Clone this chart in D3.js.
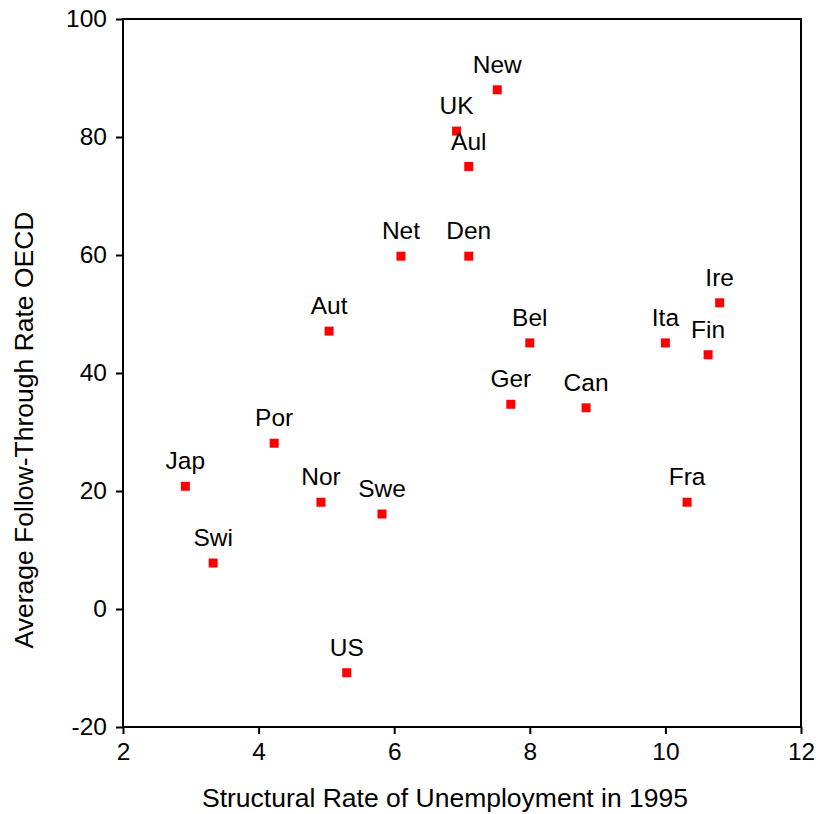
<!DOCTYPE html>
<html>
<head>
<meta charset="utf-8">
<script src="https://cdn.jsdelivr.net/npm/d3@7"></script>
<style>
  body { margin: 0; background: #fff; }
  text { font-family: "Liberation Sans", Arial, sans-serif; }
</style>
</head>
<body>
<div id="chart"></div>
<script>
var countries = ["New", "UK", "Aul", "Net", "Den", "Aut", "Bel", "Ita", "Ire", "Fin", "Ger", "Can", "Por", "Jap", "Nor", "Swe", "Fra", "Swi", "US"];
var unemployment = [7.52, 6.92, 7.10, 6.10, 7.10, 5.04, 8.00, 10.00, 10.80, 10.63, 7.72, 8.83, 4.23, 2.92, 4.92, 5.82, 10.32, 3.33, 5.30];
var followThrough = [88.0, 81.0, 75.0, 59.8, 59.8, 47.1, 45.1, 45.1, 51.9, 43.1, 34.7, 34.1, 28.1, 20.8, 18.1, 16.1, 18.1, 7.8, -10.8];
var xTicks = [2, 4, 6, 8, 10, 12];
var yTicks = [-20, 0, 20, 40, 60, 80, 100];

var width = 816, height = 814;
var mLeft = 123, mRight = 801, mTop = 19, mBottom = 727;

var svg = d3.select("#chart").append("svg")
    .attr("width", width)
    .attr("height", height);

var x = d3.scaleLinear().domain([2, 12]).range([mLeft, mRight]);
var y = d3.scaleLinear().domain([-20, 100]).range([mBottom, mTop]);

// frame
svg.append("rect")
    .attr("x", mLeft)
    .attr("y", mTop)
    .attr("width", mRight - mLeft)
    .attr("height", mBottom - mTop)
    .attr("fill", "none")
    .attr("stroke", "#000")
    .attr("stroke-width", 2);

// plain hyphen for negatives, like the original
var fmt = function(d) { return String(d); };

var xAxis = svg.append("g")
    .attr("transform", "translate(0," + mBottom + ")")
    .call(d3.axisBottom(x).tickValues(xTicks).tickSize(7).tickPadding(9).tickFormat(fmt));

var yAxis = svg.append("g")
    .attr("transform", "translate(" + mLeft + ",0)")
    .call(d3.axisLeft(y).tickValues(yTicks).tickSize(7).tickPadding(9).tickFormat(fmt));

[xAxis, yAxis].forEach(function(a) {
  a.select(".domain").remove();
  a.selectAll(".tick line").attr("stroke", "#000").attr("stroke-width", 2);
  a.selectAll(".tick text")
      .attr("fill", "#000")
      .attr("font-size", "24.5px")
      .attr("font-family", "'Liberation Sans', Arial, sans-serif");
});

var pts = countries.map(function(c, i) {
  return {name: c, ux: unemployment[i], fy: followThrough[i]};
});

svg.selectAll(".pt")
    .data(pts)
  .enter().append("rect")
    .attr("class", "pt")
    .attr("x", function(d) { return x(d.ux) - 4.5; })
    .attr("y", function(d) { return y(d.fy) - 4.5; })
    .attr("width", 9)
    .attr("height", 9)
    .attr("fill", "#ff0000");

svg.selectAll(".lbl")
    .data(pts)
  .enter().append("text")
    .attr("class", "lbl")
    .attr("x", function(d) { return x(d.ux); })
    .attr("y", function(d) { return y(d.fy) - 17; })
    .attr("text-anchor", "middle")
    .attr("font-size", "24.5px")
    .attr("fill", "#000")
    .text(function(d) { return d.name; });

// axis titles
svg.append("text")
    .attr("x", 445)
    .attr("y", 807)
    .attr("text-anchor", "middle")
    .attr("font-size", "26.5px")
    .attr("fill", "#000")
    .text("Structural Rate of Unemployment in 1995");

svg.append("text")
    .attr("transform", "translate(33,430) rotate(-90)")
    .attr("text-anchor", "middle")
    .attr("font-size", "26.5px")
    .attr("fill", "#000")
    .text("Average Follow-Through Rate OECD");
</script>
</body>
</html>
